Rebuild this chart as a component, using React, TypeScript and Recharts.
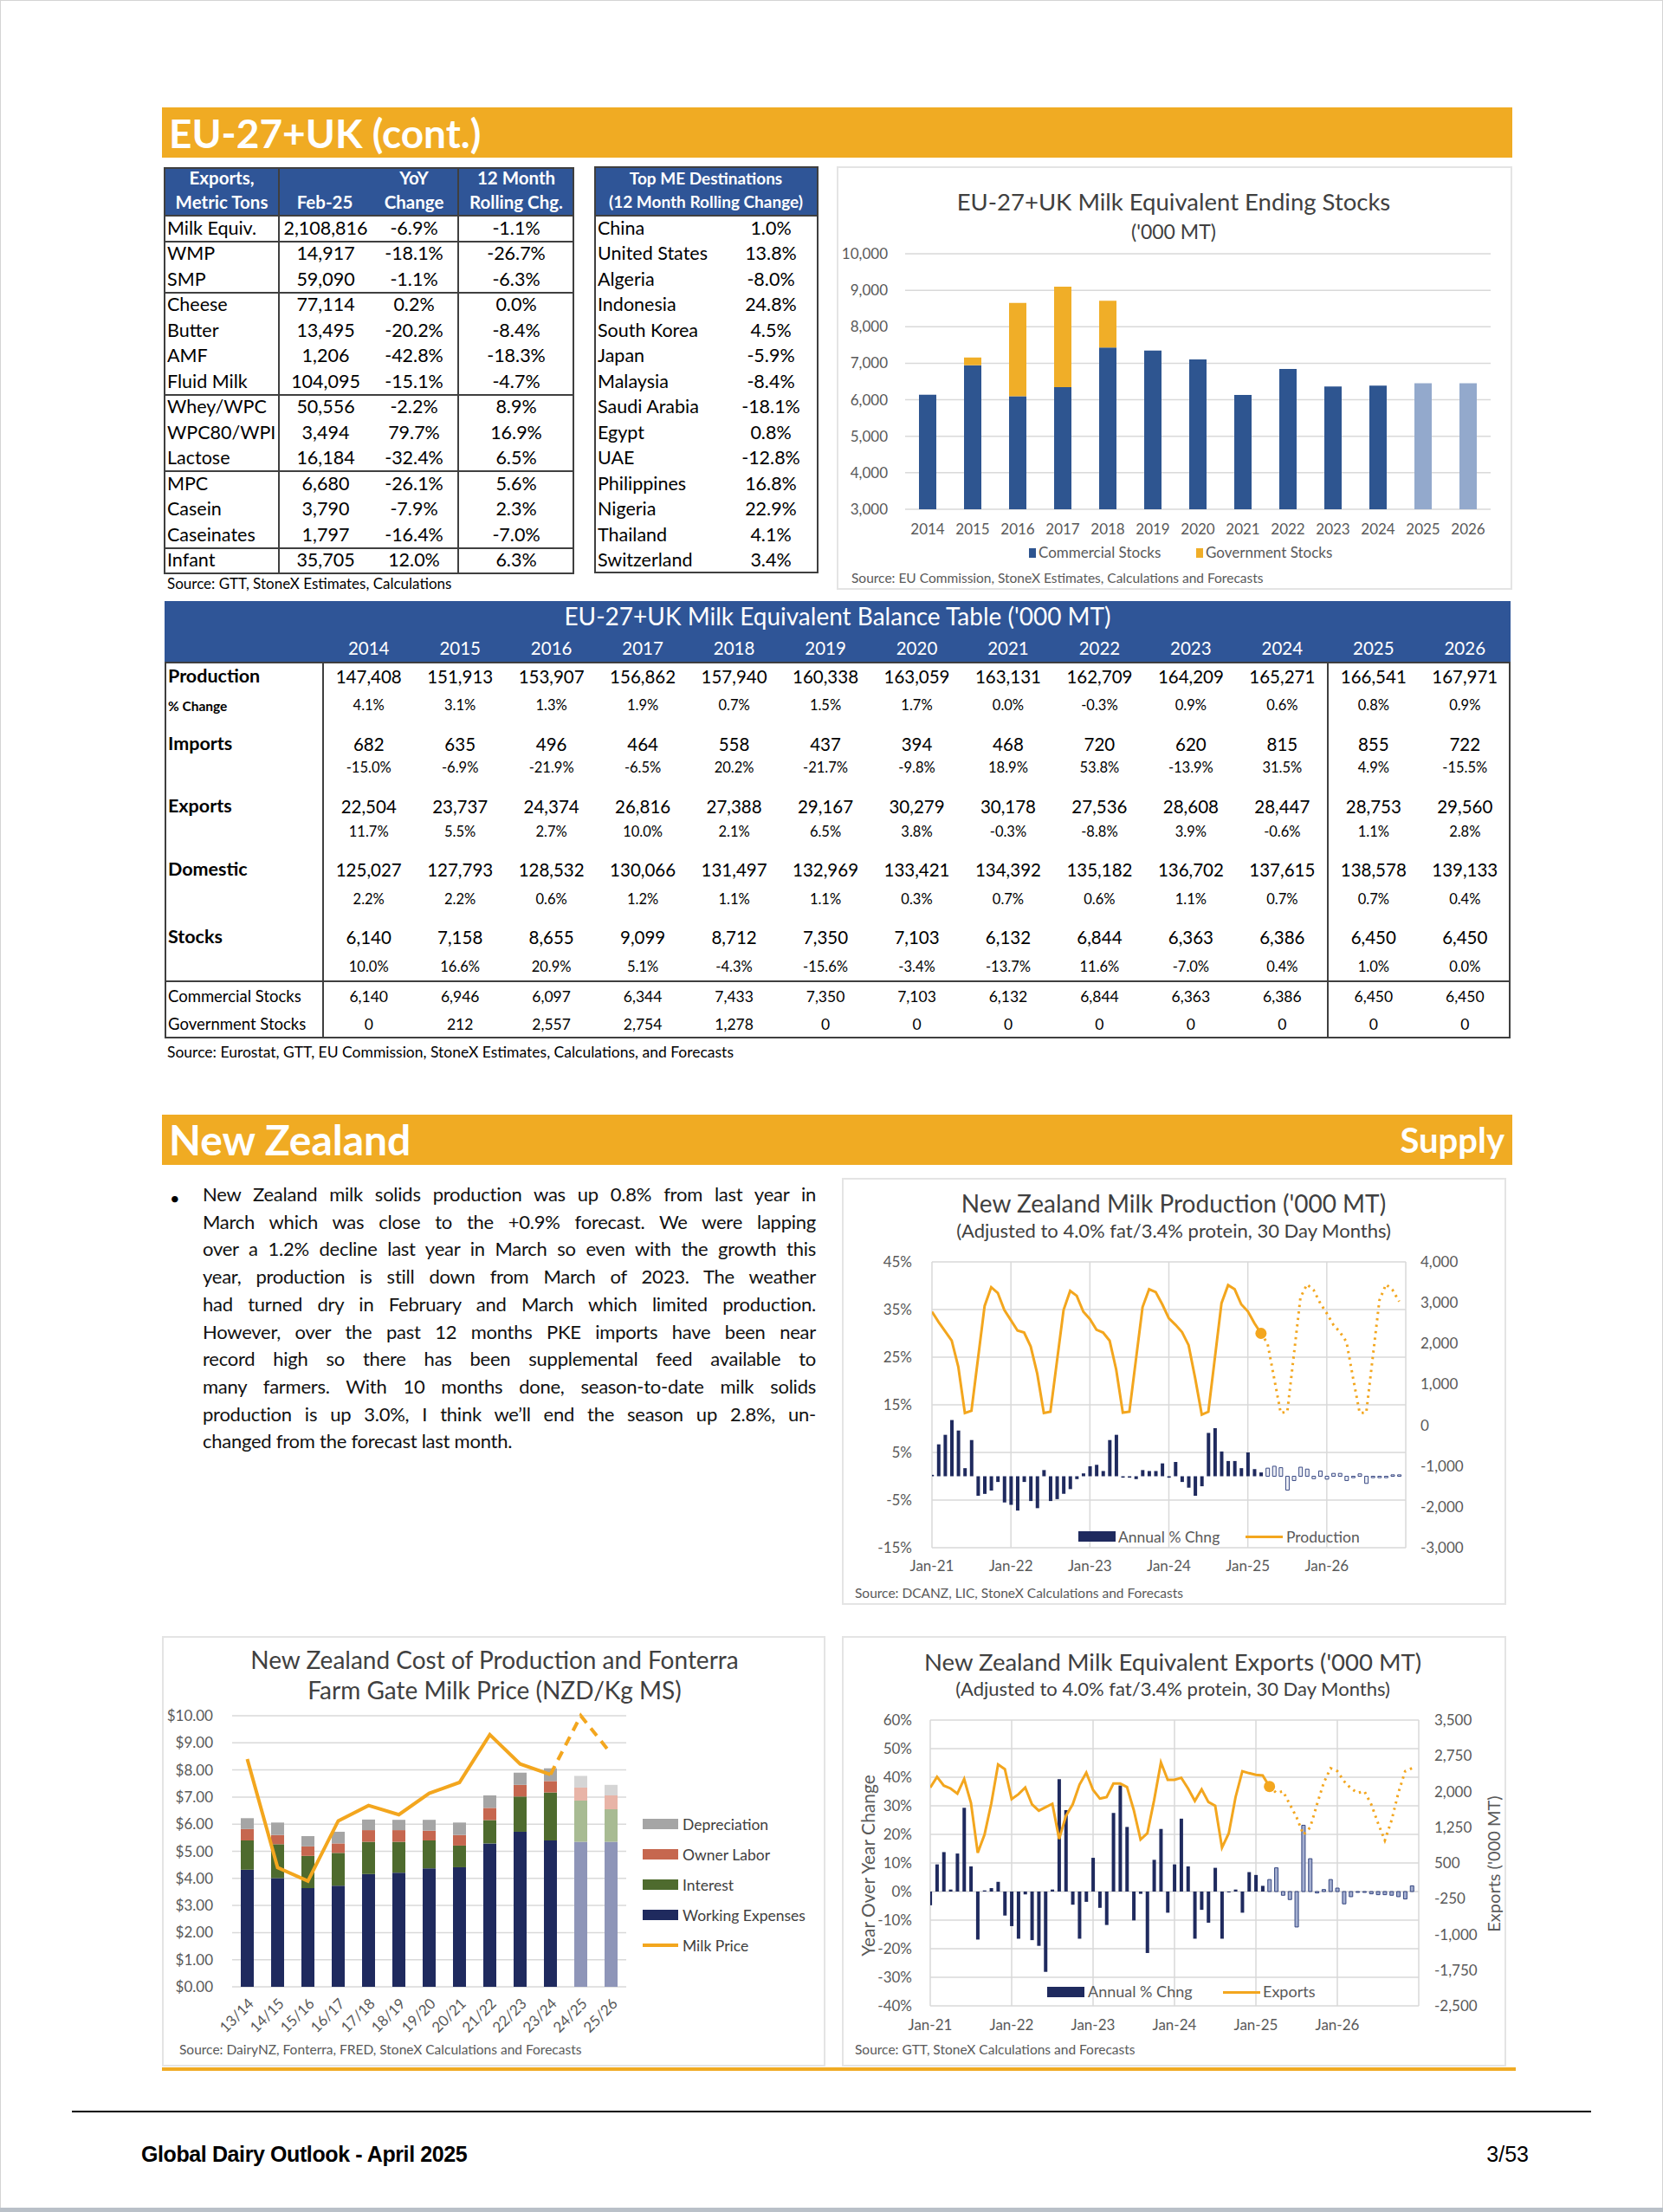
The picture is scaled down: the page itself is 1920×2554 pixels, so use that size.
import React from "react";
import {
  BarChart,
  ComposedChart,
  Bar,
  Line,
  XAxis,
  YAxis,
  CartesianGrid,
  Cell,
} from "recharts";

const FONT = "Lato, 'Noto Sans', sans-serif";
const ORANGE = "#F0AB23";
const LINE_ORANGE = "#F3A61E";
const BLUE = "#2F5597";
const NAVY = "#1F2A5E";
const TXT = "#595959";
const GRID = "#D9D9D9";
const RULE = "#3F3F3F";

// ---------- EU exports table ----------
const exportProducts = ["Milk Equiv.", "WMP", "SMP", "Cheese", "Butter", "AMF", "Fluid Milk", "Whey/WPC", "WPC80/WPI", "Lactose", "MPC", "Casein", "Caseinates", "Infant"];
const exportFeb25 = ["2,108,816", "14,917", "59,090", "77,114", "13,495", "1,206", "104,095", "50,556", "3,494", "16,184", "6,680", "3,790", "1,797", "35,705"];
const exportYoY = ["-6.9%", "-18.1%", "-1.1%", "0.2%", "-20.2%", "-42.8%", "-15.1%", "-2.2%", "79.7%", "-32.4%", "-26.1%", "-7.9%", "-16.4%", "12.0%"];
const exportRolling = ["-1.1%", "-26.7%", "-6.3%", "0.0%", "-8.4%", "-18.3%", "-4.7%", "8.9%", "16.9%", "6.5%", "5.6%", "2.3%", "-7.0%", "6.3%"];
const exportGroupEnds = [0, 2, 6, 9, 12];

// ---------- ME destinations ----------
const meCountries = ["China", "United States", "Algeria", "Indonesia", "South Korea", "Japan", "Malaysia", "Saudi Arabia", "Egypt", "UAE", "Philippines", "Nigeria", "Thailand", "Switzerland"];
const meChange = ["1.0%", "13.8%", "-8.0%", "24.8%", "4.5%", "-5.9%", "-8.4%", "-18.1%", "0.8%", "-12.8%", "16.8%", "22.9%", "4.1%", "3.4%"];

// ---------- Ending stocks chart ----------
const stockYears = ["2014", "2015", "2016", "2017", "2018", "2019", "2020", "2021", "2022", "2023", "2024", "2025", "2026"];
const commercialStocks = [6140, 6946, 6097, 6344, 7433, 7350, 7103, 6132, 6844, 6363, 6386, 6450, 6450];
const governmentStocks = [0, 212, 2557, 2754, 1278, 0, 0, 0, 0, 0, 0, 0, 0];
const stockTicks = [3000, 4000, 5000, 6000, 7000, 8000, 9000, 10000];
const STOCK_FIRST_FORECAST = 11;

// ---------- Balance table ----------
const balYears = stockYears;
const balProduction = ["147,408", "151,913", "153,907", "156,862", "157,940", "160,338", "163,059", "163,131", "162,709", "164,209", "165,271", "166,541", "167,971"];
const balProductionChg = ["4.1%", "3.1%", "1.3%", "1.9%", "0.7%", "1.5%", "1.7%", "0.0%", "-0.3%", "0.9%", "0.6%", "0.8%", "0.9%"];
const balImports = ["682", "635", "496", "464", "558", "437", "394", "468", "720", "620", "815", "855", "722"];
const balImportsChg = ["-15.0%", "-6.9%", "-21.9%", "-6.5%", "20.2%", "-21.7%", "-9.8%", "18.9%", "53.8%", "-13.9%", "31.5%", "4.9%", "-15.5%"];
const balExports = ["22,504", "23,737", "24,374", "26,816", "27,388", "29,167", "30,279", "30,178", "27,536", "28,608", "28,447", "28,753", "29,560"];
const balExportsChg = ["11.7%", "5.5%", "2.7%", "10.0%", "2.1%", "6.5%", "3.8%", "-0.3%", "-8.8%", "3.9%", "-0.6%", "1.1%", "2.8%"];
const balDomestic = ["125,027", "127,793", "128,532", "130,066", "131,497", "132,969", "133,421", "134,392", "135,182", "136,702", "137,615", "138,578", "139,133"];
const balDomesticChg = ["2.2%", "2.2%", "0.6%", "1.2%", "1.1%", "1.1%", "0.3%", "0.7%", "0.6%", "1.1%", "0.7%", "0.7%", "0.4%"];
const balStocks = ["6,140", "7,158", "8,655", "9,099", "8,712", "7,350", "7,103", "6,132", "6,844", "6,363", "6,386", "6,450", "6,450"];
const balStocksChg = ["10.0%", "16.6%", "20.9%", "5.1%", "-4.3%", "-15.6%", "-3.4%", "-13.7%", "11.6%", "-7.0%", "0.4%", "1.0%", "0.0%"];
const balCommercial = ["6,140", "6,946", "6,097", "6,344", "7,433", "7,350", "7,103", "6,132", "6,844", "6,363", "6,386", "6,450", "6,450"];
const balGovernment = ["0", "212", "2,557", "2,754", "1,278", "0", "0", "0", "0", "0", "0", "0", "0"];

// ---------- NZ text ----------
const nzLines = [
  "New Zealand milk solids production was up 0.8% from last year in",
  "March which was close to the +0.9% forecast. We were lapping",
  "over a 1.2% decline last year in March so even with the growth this",
  "year, production is still down from March of 2023. The weather",
  "had turned dry in February and March which limited production.",
  "However, over the past 12 months PKE imports have been near",
  "record high so there has been supplemental feed available to",
  "many farmers. With 10 months done, season-to-date milk solids",
  "production is up 3.0%, I think we\u2019ll end the season up 2.8%, un-",
  "changed from the forecast last month.",
];

// ---------- NZ monthly charts (Jan-21 .. Dec-26) ----------
const janLabels = ["Jan-21", "Jan-22", "Jan-23", "Jan-24", "Jan-25", "Jan-26"];
const monthTicks = [0, 12, 24, 36, 48, 60, 72];

const prodVolume = [
  2780, 2530, 2300, 2070, 1430, 300, 355, 1640, 2920, 3380, 3240, 2820,
  2570, 2320, 2270, 1930, 1260, 300, 330, 1575, 2820, 3290, 3170, 2780,
  2600, 2340, 2270, 2070, 1360, 310, 330, 1610, 2890, 3330, 3260, 2960,
  2620, 2460, 2280, 1960, 1150, 260, 330, 1660, 2990, 3430, 3330, 2960,
  2790, 2500, 2250, 2000, 1150, 300, 330, 1730, 3130, 3450, 3310, 2990,
  2740, 2460, 2280, 2040, 1150, 300, 310, 1685, 3060, 3450, 3310, 3030,
];
const prodPct = [
  0.3, 6.7, 8.7, 11.8, 9.6, 1.7, 7.6, -4.1, -3.7, -3.0, -1.2, -5.5,
  -6.0, -7.2, -1.2, -5.2, -6.7, 1.3, -5.2, -4.8, -3.7, -2.7, -0.6, 0.6,
  2.1, 2.4, 1.1, 7.6, 8.7, -0.3, -0.3, -0.6, 1.3, 1.1, 1.1, 2.7,
  -0.3, 3.0, -1.2, -2.4, -4.1, -2.1, 9.1, 10.1, 5.2, 3.2, 3.2, 1.7,
  5.0, 1.5, 0.8, 1.7, 2.1, 1.8, -2.9, -0.9, 1.9, 1.5, -0.5, 1.1,
  -0.6, 0.6, 0.6, -0.9, -0.3, 0.5, -1.5, -0.3, -0.3, -0.3, 0.3, 0.3,
];
const PROD_LAST_ACTUAL = 50;
const prodPctTicks = [-15, -5, 5, 15, 25, 35, 45];
const prodVolTicks = [-3000, -2000, -1000, 0, 1000, 2000, 3000, 4000];

const expVolume = [
  2082, 2306, 2124, 2064, 1955, 2264, 1761, 712, 1094, 1750, 2567, 2470,
  1840, 1943, 2082, 1730, 1597, 1670, 1743, 1003, 1488, 1730, 2143, 2397,
  2033, 1852, 1882, 2167, 2167, 2094, 1609, 991, 1124, 1821, 2609, 2245,
  2245, 2288, 2064, 1803, 2045, 1779, 1700, 822, 1124, 1882, 2427, 2385,
  2349, 2336, 2106, 1973, 2003, 1730, 1458, 1094, 1246, 1730, 2185, 2488,
  2427, 2215, 2064, 1973, 2003, 1730, 1336, 973, 1397, 1973, 2427, 2488,
];
const expPct = [
  -4.8, 9.5, 13.8, 0.7, 13.3, 29.3, 8.8, -16.8, 0.4, 1.2, 3.4, -8.4,
  -12.1, -16.5, -1.0, -17.0, -19.0, -28.1, 0.7, 39.3, 28.5, -4.6, -16.5, -3.6,
  11.8, -5.7, -11.7, 27.5, 37.1, 22.6, -10.1, -0.8, -21.5, 11.1, 21.9, -7.4,
  9.5, 25.5, 8.8, -16.5, -6.4, -10.9, 8.3, -16.5, -0.3, 0.7, -7.4, 6.8,
  5.8, 2.0, 4.2, 8.3, -1.3, -2.8, -12.4, 23.2, 11.5, -0.5, 0.7, 4.2,
  1.2, -4.3, -1.8, -0.3, -0.3, -0.8, -1.1, -1.1, -1.3, -1.8, -2.6, 2.0,
];
const EXP_LAST_ACTUAL = 50;
const expPctTicks = [-40, -30, -20, -10, 0, 10, 20, 30, 40, 50, 60];
const expVolTicks = [-2500, -1750, -1000, -250, 500, 1250, 2000, 2750, 3500];

// ---------- NZ cost of production ----------
const seasons = ["13/14", "14/15", "15/16", "16/17", "17/18", "18/19", "19/20", "20/21", "21/22", "22/23", "23/24", "24/25", "25/26"];
const workingExpenses = [4.32, 4.01, 3.64, 3.73, 4.16, 4.21, 4.37, 4.41, 5.29, 5.72, 5.40, 5.35, 5.35];
const interestCost = [1.08, 1.25, 1.19, 1.21, 1.19, 1.14, 1.03, 0.80, 0.86, 1.30, 1.77, 1.52, 1.20];
const ownerLabor = [0.42, 0.34, 0.35, 0.35, 0.43, 0.43, 0.36, 0.39, 0.45, 0.43, 0.42, 0.48, 0.51];
const depreciation = [0.40, 0.46, 0.38, 0.43, 0.39, 0.38, 0.40, 0.46, 0.46, 0.45, 0.47, 0.43, 0.39];
const milkPrice = [8.40, 4.40, 3.90, 6.12, 6.69, 6.35, 7.14, 7.54, 9.30, 8.22, 7.83, 10.0, 8.60];
const COST_LAST_ACTUAL = 10;
const costTicks = [0, 1, 2, 3, 4, 5, 6, 7, 8, 9, 10];

// ---------- helpers ----------
type TP = {
  x: number;
  y: number;
  children: React.ReactNode;
  size?: number;
  weight?: number;
  color?: string;
  anchor?: "start" | "middle" | "end";
  family?: string;
  style?: React.CSSProperties;
};

function T({ x, y, children, size = 20, weight = 400, color = "#000", anchor = "start", family = FONT, style }: TP) {
  const tx = anchor === "middle" ? "-50%" : anchor === "end" ? "-100%" : "0";
  return (
    <div
      style={{
        position: "absolute",
        left: x,
        top: y,
        transform: `translate(${tx},-50%)`,
        fontSize: size,
        fontWeight: weight,
        color,
        fontFamily: family,
        whiteSpace: "nowrap",
        lineHeight: 1.2,
        ...style,
      }}
    >
      {children}
    </div>
  );
}

function Box({ x, y, w, h, bg, border }: { x: number; y: number; w: number; h: number; bg?: string; border?: string }) {
  return (
    <div
      style={{
        position: "absolute",
        left: x,
        top: y,
        width: w,
        height: h,
        background: bg,
        border,
        boxSizing: "border-box",
      }}
    />
  );
}

const fmtThousands = (v: number) => v.toLocaleString("en-US");
const axisTick = { fill: TXT, fontSize: 17, fontFamily: FONT };

// ---------- sections ----------
function ExportsTable() {
  const L = 189, R = 663, TOP = 193, HB = 249, BOT = 663, RH = 29.5;
  const rowY = (i: number) => HB + RH * (i + 0.5);
  return (
    <>
      <Box x={L} y={TOP} w={R - L} h={HB - TOP} bg={BLUE} />
      <Box x={L} y={TOP} w={R - L} h={BOT - TOP} border={`2px solid ${RULE}`} />
      <Box x={L} y={HB - 1} w={R - L} h={2} bg={RULE} />
      <Box x={321} y={TOP} w={2} h={BOT - TOP} bg={RULE} />
      <Box x={528} y={TOP} w={2} h={BOT - TOP} bg={RULE} />
      {exportGroupEnds.map((g) => (
        <Box key={g} x={L} y={HB + RH * (g + 1) - 1} w={R - L} h={2} bg={RULE} />
      ))}
      <T x={256} y={205} size={20.5} weight={700} color="#fff" anchor="middle">Exports,</T>
      <T x={256} y={233} size={20.5} weight={700} color="#fff" anchor="middle">Metric Tons</T>
      <T x={375} y={233} size={20.5} weight={700} color="#fff" anchor="middle">Feb-25</T>
      <T x={478} y={205} size={20.5} weight={700} color="#fff" anchor="middle">YoY</T>
      <T x={478} y={233} size={20.5} weight={700} color="#fff" anchor="middle">Change</T>
      <T x={596} y={205} size={20.5} weight={700} color="#fff" anchor="middle">12 Month</T>
      <T x={596} y={233} size={20.5} weight={700} color="#fff" anchor="middle">Rolling Chg.</T>
      {exportProducts.map((p, i) => (
        <React.Fragment key={p}>
          <T x={193} y={rowY(i)} size={21.5}>{p}</T>
          <T x={376} y={rowY(i)} size={21.5} anchor="middle">{exportFeb25[i]}</T>
          <T x={478} y={rowY(i)} size={21.5} anchor="middle">{exportYoY[i]}</T>
          <T x={596} y={rowY(i)} size={21.5} anchor="middle">{exportRolling[i]}</T>
        </React.Fragment>
      ))}
      <T x={193} y={674} size={17}>Source: GTT, StoneX Estimates, Calculations</T>
    </>
  );
}

function MeTable() {
  const L = 686, R = 945, TOP = 192, HB = 249, BOT = 662, RH = 29.5;
  const rowY = (i: number) => HB + RH * (i + 0.5);
  return (
    <>
      <Box x={L} y={TOP} w={R - L} h={HB - TOP} bg={BLUE} />
      <Box x={L} y={TOP} w={R - L} h={BOT - TOP} border={`2px solid ${RULE}`} />
      <Box x={L} y={HB - 1} w={R - L} h={2} bg={RULE} />
      <T x={815} y={206} size={19} weight={700} color="#fff" anchor="middle">Top ME Destinations</T>
      <T x={815} y={233} size={19} weight={700} color="#fff" anchor="middle">(12 Month Rolling Change)</T>
      {meCountries.map((c, i) => (
        <React.Fragment key={c}>
          <T x={690} y={rowY(i)} size={21.5}>{c}</T>
          <T x={890} y={rowY(i)} size={21.5} anchor="middle">{meChange[i]}</T>
        </React.Fragment>
      ))}
    </>
  );
}

function StocksChart() {
  const X = 966, Y = 192, W = 780, H = 489;
  const data = stockYears.map((year, i) => ({
    year,
    commercial: commercialStocks[i],
    government: governmentStocks[i],
  }));
  return (
    <>
      <Box x={X} y={Y} w={W} h={H} border={`2px solid #E4E4E4`} />
      <T x={1355} y={232} size={27.5} color="#404040" anchor="middle">EU-27+UK Milk Equivalent Ending Stocks</T>
      <T x={1355} y={268} size={23} color="#404040" anchor="middle">('000 MT)</T>
      <div style={{ position: "absolute", left: X, top: Y }}>
        <BarChart width={W} height={H} data={data} margin={{ top: 101, right: 25, bottom: 63, left: 9 }}>
          <CartesianGrid vertical={false} stroke={GRID} strokeWidth={1.5} />
          <XAxis
            dataKey="year"
            interval={0}
            height={30}
            axisLine={false}
            tickLine={false}
            tickSize={0}
            tickMargin={17}
            tick={{ ...axisTick, fontSize: 17 }}
          />
          <YAxis
            domain={[3000, 10000]}
            ticks={stockTicks}
            allowDataOverflow
            width={70}
            axisLine={false}
            tickLine={false}
            tickSize={0}
            tickMargin={20}
            tickFormatter={fmtThousands}
            tick={{ ...axisTick, fontSize: 17 }}
          />
          <Bar dataKey="commercial" stackId="s" barSize={20} isAnimationActive={false}>
            {data.map((_, i) => (
              <Cell key={i} fill={i >= STOCK_FIRST_FORECAST ? "#93A9CC" : "#2E5590"} />
            ))}
          </Bar>
          <Bar dataKey="government" stackId="s" barSize={20} fill="#F0AE28" isAnimationActive={false} />
        </BarChart>
      </div>
      <Box x={1188} y={633} w={8} h={11} bg="#2E5590" />
      <T x={1199} y={638} size={17} color={TXT}>Commercial Stocks</T>
      <Box x={1381} y={633} w={8} h={11} bg="#F0AE28" />
      <T x={1392} y={638} size={17} color={TXT}>Government Stocks</T>
      <T x={983} y={667} size={15.5} color={TXT}>Source: EU Commission, StoneX Estimates, Calculations and Forecasts</T>
    </>
  );
}

function BalanceTable() {
  const L = 190, R = 1744, TOP = 694, HB = 765, BOT = 1199, SEP = 1133, C0 = 373, C1 = 1533;
  const colX = (i: number) => C0 + ((R - C0) / 13) * (i + 0.5);
  const rows = [
    { label: "Production", vals: balProduction, y: 781, size: 20.5, lsize: 21.5, bold: 700 },
    { label: "% Change", vals: balProductionChg, y: 815, size: 16.5, lsize: 15.5, bold: 700 },
    { label: "Imports", vals: balImports, y: 859, size: 20.5, lsize: 21.5, bold: 700 },
    { label: "", vals: balImportsChg, y: 887, size: 16.5, lsize: 15.5, bold: 700 },
    { label: "Exports", vals: balExports, y: 931, size: 20.5, lsize: 21.5, bold: 700 },
    { label: "", vals: balExportsChg, y: 961, size: 16.5, lsize: 15.5, bold: 700 },
    { label: "Domestic", vals: balDomestic, y: 1004, size: 20.5, lsize: 21.5, bold: 700 },
    { label: "", vals: balDomesticChg, y: 1039, size: 16.5, lsize: 15.5, bold: 700 },
    { label: "Stocks", vals: balStocks, y: 1082, size: 20.5, lsize: 21.5, bold: 700 },
    { label: "", vals: balStocksChg, y: 1117, size: 16.5, lsize: 15.5, bold: 700 },
    { label: "Commercial Stocks", vals: balCommercial, y: 1150, size: 17.5, lsize: 18.5, bold: 400 },
    { label: "Government Stocks", vals: balGovernment, y: 1182, size: 17.5, lsize: 18.5, bold: 400 },
  ];
  return (
    <>
      <Box x={L} y={TOP} w={R - L} h={HB - TOP} bg={BLUE} />
      <Box x={L} y={HB - 1} w={R - L} h={BOT - HB + 1} border={`2px solid ${RULE}`} />
      <Box x={C0 - 1} y={HB} w={2} h={BOT - HB} bg={RULE} />
      <Box x={C1 - 1} y={HB} w={2} h={BOT - HB} bg={RULE} />
      <Box x={L} y={SEP - 1} w={R - L} h={2} bg={RULE} />
      <T x={967} y={712} size={28} color="#fff" anchor="middle">EU-27+UK Milk Equivalent Balance Table ('000 MT)</T>
      {balYears.map((yr, i) => (
        <T key={yr} x={colX(i)} y={748} size={20.5} color="#fff" anchor="middle">{yr}</T>
      ))}
      {rows.map((r, ri) => (
        <React.Fragment key={ri}>
          {r.label && (
            <T x={194} y={r.y} size={r.lsize} weight={r.bold}>{r.label}</T>
          )}
          {r.vals.map((v, i) => (
            <T key={i} x={colX(i)} y={r.y} size={r.size} anchor="middle">{v}</T>
          ))}
        </React.Fragment>
      ))}
      <T x={193} y={1214} size={17.5}>Source: Eurostat, GTT, EU Commission, StoneX Estimates, Calculations, and Forecasts</T>
    </>
  );
}

function NzText() {
  const top0 = 1379;
  const lh = 31.7;
  return (
    <>
      <T x={196} y={1383} size={20}>{"\u2022"}</T>
      {nzLines.map((line, i) => (
        <div
          key={i}
          style={{
            position: "absolute",
            left: 234,
            top: top0 + lh * i - 14,
            width: 708,
            height: 28,
            lineHeight: "28px",
            fontSize: 22,
            letterSpacing: -0.25,
            fontFamily: FONT,
            color: "#111",
            textAlign: "justify",
            textAlignLast: i === nzLines.length - 1 ? "left" : "justify",
          }}
        >
          {line}
        </div>
      ))}
    </>
  );
}

function lastDot(last: number) {
  return (p: any) =>
    p.index === last && p.cx != null && p.cy != null ? (
      <circle key={`d${p.index}`} cx={p.cx} cy={p.cy} r={6.5} fill={LINE_ORANGE} />
    ) : (
      <g key={`d${p.index}`} />
    );
}

const janFormatter = (v: number) => (v % 12 === 0 && janLabels[v / 12]) || "";

function ProductionChart() {
  const X = 972, Y = 1360, W = 767, H = 493;
  const data = prodVolume.map((v, i) => ({
    m: i,
    pct: prodPct[i],
    actual: i <= PROD_LAST_ACTUAL ? v : null,
    forecast: i >= PROD_LAST_ACTUAL ? v : null,
  }));
  return (
    <>
      <Box x={X} y={Y} w={W} h={H} border={`2px solid #E4E4E4`} />
      <T x={1355} y={1390} size={28} color="#404040" anchor="middle">New Zealand Milk Production ('000 MT)</T>
      <T x={1355} y={1421} size={22} color="#404040" anchor="middle">(Adjusted to 4.0% fat/3.4% protein, 30 Day Months)</T>
      <div style={{ position: "absolute", left: X, top: Y }}>
        <ComposedChart width={W} height={H} data={data} margin={{ top: 97, right: 16, bottom: 36, left: 14 }}>
          <CartesianGrid stroke={GRID} strokeWidth={1.5} />
          <XAxis
            type="number"
            dataKey="m"
            domain={[0, 72]}
            ticks={monthTicks}
            allowDataOverflow
            height={30}
            axisLine={false}
            tickLine={false}
            tickSize={0}
            tickMargin={15}
            tickFormatter={janFormatter}
            tick={axisTick}
          />
          <YAxis
            domain={[-15, 45]}
            ticks={prodPctTicks}
            width={90}
            axisLine={false}
            tickLine={false}
            tickSize={0}
            tickMargin={23}
            tickFormatter={(v: number) => `${v}%`}
            tick={axisTick}
          />
          <YAxis
            yAxisId="vol"
            orientation="right"
            domain={[-3000, 4000]}
            ticks={prodVolTicks}
            width={100}
            axisLine={false}
            tickLine={false}
            tickSize={0}
            tickMargin={17}
            tickFormatter={fmtThousands}
            tick={axisTick}
          />
          <Bar dataKey="pct" barSize={4} isAnimationActive={false}>
            {data.map((_, i) => (
              <Cell
                key={i}
                fill={i > PROD_LAST_ACTUAL ? "#EEF0F6" : NAVY}
                stroke={i > PROD_LAST_ACTUAL ? "#3A4A84" : "none"}
                strokeWidth={1}
              />
            ))}
          </Bar>
          <Line
            yAxisId="vol"
            dataKey="actual"
            stroke={LINE_ORANGE}
            strokeWidth={3}
            dot={lastDot(PROD_LAST_ACTUAL)}
            activeDot={false}
            isAnimationActive={false}
          />
          <Line
            yAxisId="vol"
            dataKey="forecast"
            stroke={LINE_ORANGE}
            strokeWidth={3}
            strokeDasharray="2.5 5"
            dot={false}
            activeDot={false}
            isAnimationActive={false}
          />
        </ComposedChart>
      </div>
      <Box x={1245} y={1768} w={43} h={12} bg={NAVY} />
      <T x={1291} y={1774} size={17.5} color={TXT}>Annual % Chng</T>
      <Box x={1438} y={1773} w={43} h={3} bg={LINE_ORANGE} />
      <T x={1485} y={1774} size={17.5} color={TXT}>Production</T>
      <T x={987} y={1839} size={15.5} color={TXT}>Source: DCANZ, LIC, StoneX Calculations and Forecasts</T>
    </>
  );
}

function SeasonTick(props: any) {
  const { x, y, payload } = props;
  return (
    <g transform={`translate(${x + 4},${y + 16})`}>
      <text
        transform="rotate(-45)"
        textAnchor="end"
        dominantBaseline="central"
        fill={TXT}
        fontSize={17}
        fontFamily={FONT}
      >
        {payload.value}
      </text>
    </g>
  );
}

function CostChart() {
  const X = 187, Y = 1889, W = 766, H = 497;
  const data = seasons.map((s, i) => ({
    season: s,
    we: workingExpenses[i],
    interest: interestCost[i],
    labor: ownerLabor[i],
    dep: depreciation[i],
    priceA: i <= COST_LAST_ACTUAL ? milkPrice[i] : null,
    priceF: i >= COST_LAST_ACTUAL ? milkPrice[i] : null,
  }));
  const fc = (i: number) => i > COST_LAST_ACTUAL;
  const legend = [
    { label: "Depreciation", color: "#A5A5A5", y: 2106, line: false },
    { label: "Owner Labor", color: "#C6674F", y: 2141, line: false },
    { label: "Interest", color: "#4E6B2E", y: 2176, line: false },
    { label: "Working Expenses", color: NAVY, y: 2211, line: false },
    { label: "Milk Price", color: LINE_ORANGE, y: 2246, line: true },
  ];
  return (
    <>
      <Box x={X} y={Y} w={W} h={H} border={`2px solid #E4E4E4`} />
      <T x={571} y={1917} size={28} color="#404040" anchor="middle">New Zealand Cost of Production and Fonterra</T>
      <T x={571} y={1952} size={28} color="#404040" anchor="middle">Farm Gate Milk Price (NZD/Kg MS)</T>
      <div style={{ position: "absolute", left: X, top: Y }}>
        <ComposedChart width={W} height={H} data={data} margin={{ top: 92, right: 230, bottom: 32, left: 6 }}>
          <CartesianGrid vertical={false} stroke={GRID} strokeWidth={1.5} />
          <XAxis
            dataKey="season"
            interval={0}
            height={60}
            axisLine={false}
            tickLine={false}
            tickSize={0}
            tickMargin={0}
            tick={<SeasonTick />}
          />
          <YAxis
            domain={[0, 10]}
            ticks={costTicks}
            width={75}
            axisLine={false}
            tickLine={false}
            tickSize={0}
            tickMargin={22}
            tickFormatter={(v: number) => `$${v.toFixed(2)}`}
            tick={axisTick}
          />
          <Bar dataKey="we" stackId="c" barSize={15} isAnimationActive={false}>
            {data.map((_, i) => <Cell key={i} fill={fc(i) ? "#8E95B8" : NAVY} />)}
          </Bar>
          <Bar dataKey="interest" stackId="c" barSize={15} isAnimationActive={false}>
            {data.map((_, i) => <Cell key={i} fill={fc(i) ? "#A8BB93" : "#4E6B2E"} />)}
          </Bar>
          <Bar dataKey="labor" stackId="c" barSize={15} isAnimationActive={false}>
            {data.map((_, i) => <Cell key={i} fill={fc(i) ? "#E8B4A7" : "#C6674F"} />)}
          </Bar>
          <Bar dataKey="dep" stackId="c" barSize={15} isAnimationActive={false}>
            {data.map((_, i) => <Cell key={i} fill={fc(i) ? "#D5D5D5" : "#A5A5A5"} />)}
          </Bar>
          <Line
            dataKey="priceA"
            stroke={LINE_ORANGE}
            strokeWidth={4}
            dot={false}
            activeDot={false}
            isAnimationActive={false}
          />
          <Line
            dataKey="priceF"
            stroke={LINE_ORANGE}
            strokeWidth={4}
            strokeDasharray="11 8"
            dot={false}
            activeDot={false}
            isAnimationActive={false}
          />
        </ComposedChart>
      </div>
      {legend.map((l) => (
        <React.Fragment key={l.label}>
          {l.line ? (
            <Box x={742} y={l.y - 2} w={41} h={4} bg={l.color} />
          ) : (
            <Box x={742} y={l.y - 6} w={41} h={12} bg={l.color} />
          )}
          <T x={788} y={l.y} size={17.5} color="#404040">{l.label}</T>
        </React.Fragment>
      ))}
      <T x={207} y={2366} size={15.5} color={TXT}>Source: DairyNZ, Fonterra, FRED, StoneX Calculations and Forecasts</T>
    </>
  );
}

function ExportsChart() {
  const X = 972, Y = 1889, W = 767, H = 497;
  const data = expVolume.map((v, i) => ({
    m: i,
    pct: expPct[i],
    actual: i <= EXP_LAST_ACTUAL ? v : null,
    forecast: i >= EXP_LAST_ACTUAL ? v : null,
  }));
  return (
    <>
      <Box x={X} y={Y} w={W} h={H} border={`2px solid #E4E4E4`} />
      <T x={1354} y={1918} size={27.5} color="#404040" anchor="middle">New Zealand Milk Equivalent Exports ('000 MT)</T>
      <T x={1354} y={1950} size={22} color="#404040" anchor="middle">(Adjusted to 4.0% fat/3.4% protein, 30 Day Months)</T>
      <div style={{ position: "absolute", left: X, top: Y }}>
        <ComposedChart width={W} height={H} data={data} margin={{ top: 97, right: 16, bottom: 40, left: 22 }}>
          <CartesianGrid stroke={GRID} strokeWidth={1.5} />
          <XAxis
            type="number"
            dataKey="m"
            domain={[0, 72]}
            ticks={monthTicks}
            allowDataOverflow
            height={30}
            axisLine={false}
            tickLine={false}
            tickSize={0}
            tickMargin={16}
            tickFormatter={janFormatter}
            tick={axisTick}
          />
          <YAxis
            domain={[-40, 60]}
            ticks={expPctTicks}
            width={80}
            axisLine={false}
            tickLine={false}
            tickSize={0}
            tickMargin={21}
            tickFormatter={(v: number) => `${v}%`}
            tick={axisTick}
          />
          <YAxis
            yAxisId="vol"
            orientation="right"
            domain={[-2500, 3500]}
            ticks={expVolTicks}
            width={85}
            axisLine={false}
            tickLine={false}
            tickSize={0}
            tickMargin={18}
            tickFormatter={fmtThousands}
            tick={axisTick}
          />
          <Bar dataKey="pct" barSize={4} isAnimationActive={false}>
            {data.map((_, i) => (
              <Cell
                key={i}
                fill={i >= EXP_LAST_ACTUAL ? "#A3AED0" : NAVY}
                stroke={i >= EXP_LAST_ACTUAL ? "#34457F" : "none"}
                strokeWidth={1}
              />
            ))}
          </Bar>
          <Line
            yAxisId="vol"
            dataKey="actual"
            stroke={LINE_ORANGE}
            strokeWidth={3}
            dot={lastDot(EXP_LAST_ACTUAL)}
            activeDot={false}
            isAnimationActive={false}
          />
          <Line
            yAxisId="vol"
            dataKey="forecast"
            stroke={LINE_ORANGE}
            strokeWidth={3}
            strokeDasharray="2.5 5"
            dot={false}
            activeDot={false}
            isAnimationActive={false}
          />
        </ComposedChart>
      </div>
      <T
        x={1002}
        y={2154}
        size={21}
        color={TXT}
        anchor="middle"
        style={{ transform: "translate(-50%,-50%) rotate(-90deg)" }}
      >
        Year Over Year Change
      </T>
      <T
        x={1724}
        y={2152}
        size={20}
        color={TXT}
        anchor="middle"
        style={{ transform: "translate(-50%,-50%) rotate(-90deg)" }}
      >
        Exports ('000 MT)
      </T>
      <Box x={1209} y={2294} w={43} h={12} bg={NAVY} />
      <T x={1256} y={2300} size={18} color={TXT}>Annual % Chng</T>
      <Box x={1412} y={2299} w={43} h={3} bg={LINE_ORANGE} />
      <T x={1458} y={2300} size={18} color={TXT}>Exports</T>
      <T x={987} y={2366} size={15.5} color={TXT}>Source: GTT, StoneX Calculations and Forecasts</T>
    </>
  );
}

export default function App() {
  return (
    <div
      style={{
        position: "relative",
        width: 1920,
        height: 2554,
        overflow: "hidden",
        background: "#fff",
        fontFamily: FONT,
      }}
    >
      <style>{`body{margin:0}`}</style>
      <Box x={0} y={0} w={1920} h={2554} border="1px solid #D4D4D4" />

      {/* EU header */}
      <Box x={187} y={124} w={1559} h={58} bg={ORANGE} />
      <T x={195} y={154} size={46} weight={700} color="#fff">EU-27+UK (cont.)</T>

      <ExportsTable />
      <MeTable />
      <StocksChart />
      <BalanceTable />

      {/* NZ header */}
      <Box x={187} y={1287} w={1559} h={58} bg={ORANGE} />
      <T x={195} y={1316} size={48} weight={700} color="#fff">New Zealand</T>
      <T x={1737} y={1316} size={40} weight={700} color="#fff" anchor="end">Supply</T>

      <NzText />
      <ProductionChart />
      <CostChart />
      <ExportsChart />

      <Box x={187} y={2387} w={1563} h={4} bg={ORANGE} />

      {/* footer */}
      <Box x={83} y={2437} w={1754} h={2} bg="#000" />
      <T
        x={163}
        y={2487}
        size={25}
        weight={700}
        family="'Liberation Sans', Arial, sans-serif"
        style={{ letterSpacing: -0.4 }}
      >
        Global Dairy Outlook - April 2025
      </T>
      <T x={1765} y={2487} size={25} family="'Liberation Sans', Arial, sans-serif" anchor="end">
        3/53
      </T>
      <Box x={0} y={2549} w={1920} h={5} bg="#B9C0C8" />
    </div>
  );
}
